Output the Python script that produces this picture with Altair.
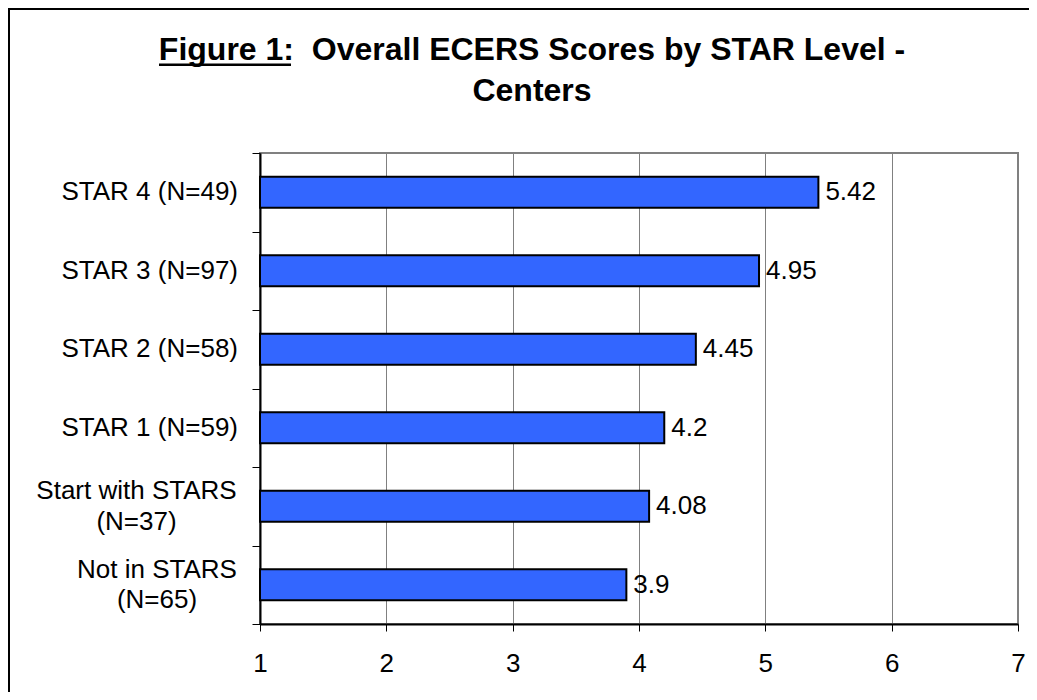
import altair as alt
import pandas as pd

# ---- data ----
categories = [
    "STAR 4 (N=49)",
    "STAR 3 (N=97)",
    "STAR 2 (N=58)",
    "STAR 1 (N=59)",
    "Start with STARS (N=37)",
    "Not in STARS (N=65)",
]
label_text = [
    "STAR 4 (N=49)",
    "STAR 3 (N=97)",
    "STAR 2 (N=58)",
    "STAR 1 (N=59)",
    "Start with STARS\n(N=37)",
    "Not in STARS\n(N=65)",
]
scores = [5.42, 4.95, 4.45, 4.2, 4.08, 3.9]
value_labels = ["5.42", "4.95", "4.45", "4.2", "4.08", "3.9"]
x_ticks = [1, 2, 3, 4, 5, 6, 7]
title_lines = ["Figure 1:\u00a0 Overall ECERS Scores by STAR Level -", "Centers"]

# ---- style ----
FONT = "Liberation Sans, Arial, Helvetica, sans-serif"
BAR_COLOR = "#3366FF"
LABEL_CENTER = {"Start with STARS (N=37)": -123.5, "Not in STARS (N=65)": -103}

df = pd.DataFrame({
    "cat": categories,
    "label": label_text,
    "score": scores,
    "start": [x_ticks[0]] * len(scores),
    "vlabel": value_labels,
})

y_enc = alt.Y(
    "cat:N",
    sort=categories,
    scale=alt.Scale(domain=categories, paddingInner=0, paddingOuter=0),
    axis=alt.Axis(
        title=None, labels=False, grid=False, tickBand="extent",
        domainColor="black", domainWidth=2,
        tickColor="black", tickWidth=1, tickSize=8,
    ),
)

base = alt.Chart(df)

bars = base.mark_bar(size=31, color=BAR_COLOR, stroke="black", strokeWidth=2).encode(
    y=y_enc,
    x=alt.X(
        "start:Q",
        scale=alt.Scale(domain=[x_ticks[0], x_ticks[-1]], nice=False, zero=False),
        axis=alt.Axis(
            title=None, values=x_ticks, format="d", grid=True,
            gridColor="#808080", gridWidth=1,
            domainColor="black", domainWidth=2,
            tickColor="black", tickWidth=1, tickSize=7,
            labelFont=FONT, labelFontSize=26, labelColor="black",
            labelPadding=19, labelFlush=False,
        ),
    ),
    x2="score:Q",
)

values = base.mark_text(
    align="left", baseline="middle", dx=7, font=FONT, fontSize=26, color="black"
).encode(y=y_enc, x=alt.X("score:Q"), text="vlabel:N")

single = [c for c in categories if c not in LABEL_CENTER]
label_layers = [
    base.transform_filter(alt.FieldOneOfPredicate(field="cat", oneOf=single))
    .mark_text(align="right", baseline="middle", font=FONT, fontSize=26, color="black")
    .encode(y=y_enc, x=alt.value(-22), text="label:N")
]
for c, cx in LABEL_CENTER.items():
    label_layers.append(
        base.transform_filter(alt.FieldEqualPredicate(field="cat", equal=c))
        .mark_text(align="center", baseline="middle", lineBreak="\n", lineHeight=30.5,
                   dy=-15, font=FONT, fontSize=26, color="black")
        .encode(y=y_enc, x=alt.value(cx), text="label:N")
    )

one = pd.DataFrame({"k": [0]})
frame = alt.Chart(one).mark_rect(fillOpacity=0, stroke="black", strokeWidth=2).encode(
    x=alt.value(-251), x2=alt.value(3000), y=alt.value(-144), y2=alt.value(3000)
)
title1 = alt.Chart(one).mark_text(
    align="center", baseline="alphabetic", font=FONT, fontSize=32, fontWeight="bold", color="black"
).encode(x=alt.value(272), y=alt.value(-93.3), text=alt.value(title_lines[0]))
title2 = alt.Chart(one).mark_text(
    align="center", baseline="alphabetic", font=FONT, fontSize=32, fontWeight="bold", color="black"
).encode(x=alt.value(272), y=alt.value(-51.6), text=alt.value(title_lines[1]))
underline = alt.Chart(one).mark_rule(color="black", strokeWidth=2.5).encode(
    x=alt.value(-101), x2=alt.value(31), y=alt.value(-88.3)
)

chart = alt.layer(frame, bars, values, *label_layers, title1, title2, underline).properties(
    width=758,
    height=471,
    padding={"left": 252, "top": 145, "right": 11, "bottom": 68},
    autosize=alt.AutoSizeParams(type="none"),
    background="white",
).configure_view(stroke="#808080", strokeWidth=2)

chart.save("out.html", embed_options={"renderer": "svg", "actions": False})
